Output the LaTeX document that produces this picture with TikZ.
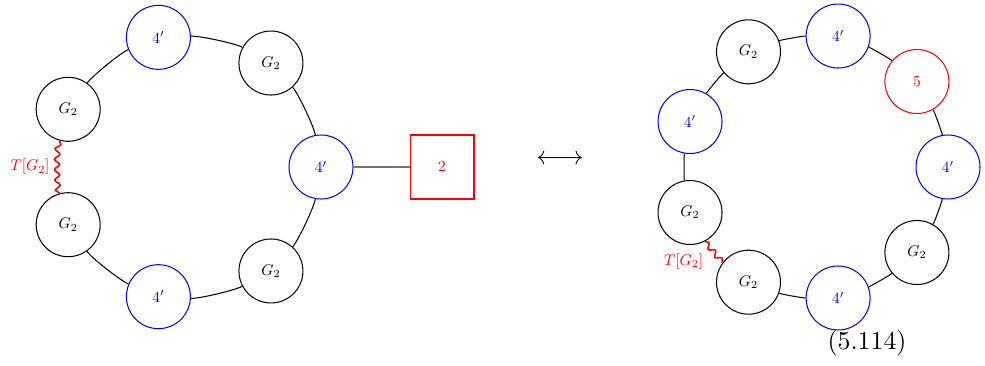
\documentclass[tikz,border=0pt]{standalone}
\usetikzlibrary{decorations.pathmorphing}
\newcommand{\smtx}[1]{\scalebox{0.6}{#1}}
\begin{document}
\begin{tikzpicture}[x=0.3876pt,y=0.3876pt,
  ring/.style={circle,draw,minimum size=24.8pt,inner sep=0pt},
  gnode/.style={ring,draw=black},
  bnode/.style={ring,draw=blue,text=blue},
  rnode/.style={ring,draw=red,text=red},
  sqnode/.style={rectangle,draw=red,text=red,minimum size=24.8pt,inner sep=0pt},
  link/.style={draw=black},
  flink/.style={draw=black!55},
  twist/.style={draw=red,semithick,decorate,decoration={snake,amplitude=1pt,segment length=4pt}},
  twlabel/.style={text=red,inner sep=1pt,anchor=east},
  larc/.style 2 args={out=#1+100,in=#2-100,looseness=0.41},
  rarc/.style 2 args={out=#1+100,in=#2-100,looseness=0.27}]
\useasboundingbox (0,0) rectangle (985,365);
% left quiver
\begin{scope}[shift={(188,198)}]
  \node[bnode] (L0) at (0:133) {\smtx{$4'$}};
  \node[gnode] (L1) at (51.43:133) {\smtx{$G_2$}};
  \node[bnode] (L2) at (102.86:133) {\smtx{$4'$}};
  \node[gnode] (L3) at (154.29:133) {\smtx{$G_2$}};
  \node[gnode] (L4) at (205.71:133) {\smtx{$G_2$}};
  \node[bnode] (L5) at (257.14:133) {\smtx{$4'$}};
  \node[gnode] (L6) at (308.57:133) {\smtx{$G_2$}};
\end{scope}
\node[sqnode] (F) at (442,198) {\smtx{$2$}};
\draw[link] (L0) to[larc={0}{51.43}] (L1);
\draw[link] (L1) to[larc={51.43}{102.86}] (L2);
\draw[link] (L2) to[larc={102.86}{154.29}] (L3);
\draw[twist] (L3) to[larc={154.29}{205.71}] node[twlabel,xshift=-1.9pt] {\smtx{$T[G_2]$}} (L4);
\draw[link] (L4) to[larc={205.71}{257.14}] (L5);
\draw[link] (L5) to[larc={257.14}{308.57}] (L6);
\draw[link] (L6) to[larc={308.57}{360}] (L0);
\draw[flink] (L0) -- (F);
% arrow
\node (arr) at (560,205) {$\longleftrightarrow$};
% right quiver
\begin{scope}[shift={(815,198)}]
  \node[bnode] (R0) at (0:133) {\smtx{$4'$}};
  \node[rnode] (R1) at (40:133) {\smtx{$5$}};
  \node[bnode] (R2) at (80:133) {\smtx{$4'$}};
  \node[gnode] (R3) at (120:133) {\smtx{$G_2$}};
  \node[bnode] (R4) at (160:133) {\smtx{$4'$}};
  \node[gnode] (R5) at (200:133) {\smtx{$G_2$}};
  \node[gnode] (R6) at (240:133) {\smtx{$G_2$}};
  \node[bnode] (R7) at (280:133) {\smtx{$4'$}};
  \node[gnode] (R8) at (320:133) {\smtx{$G_2$}};
\end{scope}
\draw[link] (R0) to[rarc={0}{40}] (R1);
\draw[link] (R1) to[rarc={40}{80}] (R2);
\draw[link] (R2) to[rarc={80}{120}] (R3);
\draw[link] (R3) to[rarc={120}{160}] (R4);
\draw[link] (R4) to[rarc={160}{200}] (R5);
\draw[twist] (R5.297) -- node[twlabel,xshift=-2.8pt,yshift=-3.7pt] {\smtx{$T[G_2]$}} (R6.143);
\draw[link] (R6) to[rarc={240}{280}] (R7);
\draw[link] (R7) to[rarc={280}{320}] (R8);
\draw[link] (R8) to[rarc={320}{360}] (R0);
\node (eq) at (867,22) {(5.114)};
\end{tikzpicture}
\end{document}
